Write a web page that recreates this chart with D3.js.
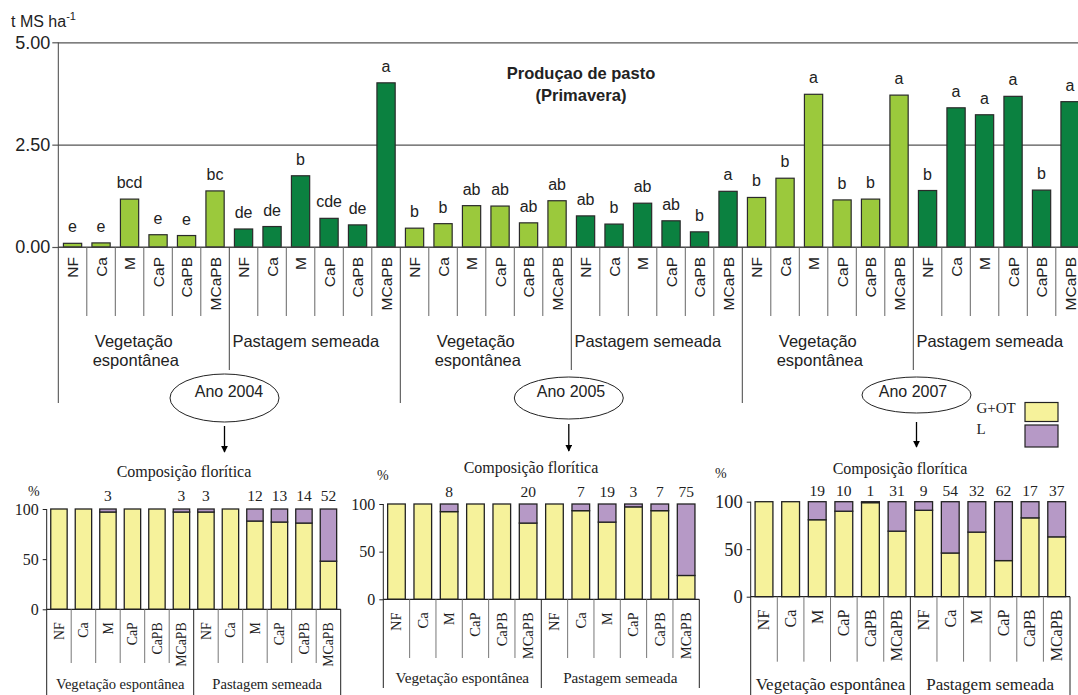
<!DOCTYPE html>
<html>
<head>
<meta charset="utf-8">
<script src="https://cdn.jsdelivr.net/npm/d3@7"></script>
<style>
  body { margin: 0; background: #fff; }
  svg { display: block; }
  .sans { font-family: Arial, "Liberation Sans", sans-serif; fill: #222; }
  .serif { font-family: "Times New Roman", "Liberation Serif", serif; fill: #222; }
</style>
</head>
<body>
<div id="chart"></div>
<script>
const years = ['2004', '2005', '2007'];
const systems = ['Vegetação espontânea', 'Pastagem semeada'];
const treatments = ['NF', 'Ca', 'M', 'CaP', 'CaPB', 'MCaPB'];

// t MS ha-1, first 6 = vegetação espontânea, last 6 = pastagem semeada
const pasture2004 = [0.09, 0.10, 1.17, 0.30, 0.28, 1.37, 0.44, 0.50, 1.74, 0.70, 0.54, 4.01];
const pasture2005 = [0.46, 0.57, 1.01, 1.00, 0.59, 1.13, 0.76, 0.56, 1.07, 0.64, 0.37, 1.36];
const pasture2007 = [1.21, 1.68, 3.73, 1.15, 1.17, 3.71, 1.38, 3.40, 3.23, 3.68, 1.39, 3.55];

const letters2004 = ['e', 'e', 'bcd', 'e', 'e', 'bc', 'de', 'de', 'b', 'cde', 'de', 'a'];
const letters2005 = ['b', 'b', 'ab', 'ab', 'ab', 'ab', 'ab', 'b', 'ab', 'ab', 'b', 'a'];
const letters2007 = ['b', 'b', 'a', 'b', 'b', 'a', 'b', 'a', 'a', 'a', 'b', 'a'];

// % leguminosas (L); G+OT is the rest up to 100
const legumes2004 = [0, 0, 3, 0, 0, 3, 3, 0, 12, 13, 14, 52];
const legumes2005 = [0, 0, 8, 0, 0, 20, 0, 7, 19, 3, 7, 75];
const legumes2007 = [0, 0, 19, 10, 1, 31, 9, 54, 32, 62, 17, 37];

const pastureTicks = [0, 2.5, 5];
const percentTicks = [0, 50, 100];
const legendLabels = ['G+OT', 'L'];

const LIGHT = '#9bc93c', DARK = '#0b8140';
const YELLOW = '#f6f29b', PURPLE = '#b699c6';
const INK = '#222';

const svg = d3.select('#chart').append('svg')
  .attr('width', 1078)
  .attr('height', 695);

svg.append('defs').append('marker')
  .attr('id', 'arrow')
  .attr('viewBox', '0 0 10 10')
  .attr('refX', 9).attr('refY', 5)
  .attr('markerWidth', 7).attr('markerHeight', 7)
  .attr('markerUnits', 'userSpaceOnUse')
  .attr('orient', 'auto')
  .append('path')
    .attr('d', 'M0,0L10,5L0,10Z')
    .attr('fill', '#000');

// ---------- top chart: produção de pasto ----------
const pasture = [pasture2004, pasture2005, pasture2007];
const letters = [letters2004, letters2005, letters2007];

const rows = [];
years.forEach(function(yr, yi) {
  pasture[yi].forEach(function(v, i) {
    rows.push({ year: yr, system: Math.floor(i / 6), treatment: treatments[i % 6], value: v, letter: letters[yi][i] });
  });
});

const x = d3.scaleBand()
  .domain(d3.range(rows.length))
  .range([58.3, 1084.3]);

const y = d3.scaleLinear()
  .domain([0, 5])
  .range([247, 42.3]);

const topG = svg.append('g');

// gridlines + ticks
topG.append('g')
  .attr('transform', 'translate(58.3,0)')
  .call(d3.axisRight(y).tickValues(pastureTicks).tickSize(1078 - 58.3).tickFormat(''))
  .call(function(g) {
    g.select('.domain').remove();
    g.selectAll('.tick line').attr('stroke', '#555').attr('stroke-width', 1.2);
  });

topG.append('g')
  .attr('transform', 'translate(58.3,0)')
  .call(d3.axisLeft(y).tickValues(pastureTicks).tickSize(6).tickPadding(2).tickFormat(d3.format('.2f')))
  .call(function(g) {
    g.select('.domain').remove();
    g.selectAll('.tick line').attr('stroke', '#555').attr('stroke-width', 1.2);
    g.selectAll('.tick text')
      .attr('class', 'sans')
      .attr('font-size', 18)
      .attr('fill', INK);
  });

// left axis line, running down through the label area
topG.append('line')
  .attr('x1', 58.3).attr('x2', 58.3)
  .attr('y1', y(5)).attr('y2', 403)
  .attr('stroke', '#444').attr('stroke-width', 1);

topG.append('text')
  .attr('class', 'sans')
  .attr('x', 11).attr('y', 27)
  .attr('font-size', 16)
  .text('t MS ha')
  .append('tspan')
    .attr('dy', -7)
    .attr('font-size', 11)
    .text('-1');

topG.append('text')
  .attr('class', 'sans')
  .attr('x', 581).attr('y', 79)
  .attr('text-anchor', 'middle')
  .attr('font-size', 16.5)
  .attr('font-weight', 'bold')
  .text('Produçao de pasto');
topG.append('text')
  .attr('class', 'sans')
  .attr('x', 581).attr('y', 101)
  .attr('text-anchor', 'middle')
  .attr('font-size', 16.5)
  .attr('font-weight', 'bold')
  .text('(Primavera)');

const barW = x.bandwidth() * 0.64;

topG.selectAll('.bar')
  .data(rows)
  .enter().append('rect')
    .attr('class', 'bar')
    .attr('x', function(d, i) { return x(i) + (x.bandwidth() - barW) / 2 })
    .attr('y', function(d) { return y(d.value) })
    .attr('width', barW)
    .attr('height', function(d) { return y(0) - y(d.value) })
    .attr('fill', function(d) { return d.system === 0 ? LIGHT : DARK })
    .attr('stroke', '#2a2a2a')
    .attr('stroke-width', 1.2);

topG.selectAll('.letter')
  .data(rows)
  .enter().append('text')
    .attr('class', 'sans letter')
    .attr('x', function(d, i) { return x(i) + x.bandwidth() / 2 })
    .attr('y', function(d) { return y(d.value) - 11 })
    .attr('text-anchor', 'middle')
    .attr('font-size', 16)
    .text(function(d) { return d.letter });

topG.append('line')
  .attr('x1', 58.3).attr('x2', 1078)
  .attr('y1', y(0)).attr('y2', y(0))
  .attr('stroke', '#444').attr('stroke-width', 1.2);

// category labels
topG.selectAll('.cat')
  .data(rows)
  .enter().append('text')
    .attr('class', 'sans cat')
    .attr('font-size', 15.5)
    .attr('text-anchor', 'end')
    .attr('transform', function(d, i) {
      return 'translate(' + (x(i) + x.bandwidth() / 2 + 5.5) + ',' + 257 + ') rotate(-90)';
    })
    .text(function(d) { return d.treatment });

// dividers: short between treatments, longer between systems, longest between years
topG.selectAll('.div')
  .data(d3.range(1, rows.length))
  .enter().append('line')
    .attr('x1', function(i) { return x(i) })
    .attr('x2', function(i) { return x(i) })
    .attr('y1', y(0))
    .attr('y2', function(i) { return i % 12 === 0 ? 403 : (i % 6 === 0 ? 370 : 316) })
    .attr('stroke', function(i) { return i % 6 === 0 ? '#444' : '#666' })
    .attr('stroke-width', 1);

// system labels under each group
years.forEach(function(yr, yi) {
  const g0 = x(yi * 12), g1 = x(yi * 12 + 6), g2 = yi === 2 ? 1084.3 : x(yi * 12 + 12);
  const veg = topG.append('text')
    .attr('class', 'sans')
    .attr('font-size', 16.5)
    .attr('text-anchor', 'middle');
  veg.append('tspan').attr('x', (g0 + g1) / 2 - 10).attr('y', 347).text('Vegetação');
  veg.append('tspan').attr('x', (g0 + g1) / 2 - 8).attr('y', 366).text('espontânea');
  topG.append('text')
    .attr('class', 'sans')
    .attr('font-size', 16.5)
    .attr('text-anchor', 'middle')
    .attr('x', (g1 + g2) / 2 - 9)
    .attr('y', 347)
    .text(systems[1]);
});

// year ellipses + arrows
const yearMarks = [
  { cx: 224.5, cy: 398, ry: 24, tx: 229, ay1: 426, ay2: 452 },
  { cx: 568.8, cy: 398, ry: 21, tx: 571, ay1: 424, ay2: 451 },
  { cx: 916.5, cy: 395, ry: 18, tx: 913, ay1: 422, ay2: 447 }
];
years.forEach(function(yr, i) {
  const m = yearMarks[i];
  svg.append('ellipse')
    .attr('cx', m.cx).attr('cy', m.cy)
    .attr('rx', 54.5).attr('ry', m.ry)
    .attr('fill', '#fff')
    .attr('stroke', INK).attr('stroke-width', 1);
  svg.append('text')
    .attr('class', 'sans')
    .attr('x', m.tx).attr('y', 397)
    .attr('text-anchor', 'middle')
    .attr('font-size', 16)
    .text('Ano ' + yr);
  svg.append('line')
    .attr('x1', m.cx).attr('x2', m.cx)
    .attr('y1', m.ay1).attr('y2', m.ay2)
    .attr('stroke', '#000').attr('stroke-width', 1.3)
    .attr('marker-end', 'url(#arrow)');
});

// legend
const legend = svg.append('g');
[YELLOW, PURPLE].forEach(function(c, i) {
  legend.append('rect')
    .attr('x', 1025).attr('y', i === 0 ? 402.5 : 425)
    .attr('width', 33).attr('height', i === 0 ? 19 : 22)
    .attr('fill', c)
    .attr('stroke', INK).attr('stroke-width', 1.2);
  legend.append('text')
    .attr('class', 'serif')
    .attr('x', 976.5).attr('y', i === 0 ? 413 : 434)
    .attr('font-size', 15)
    .text(legendLabels[i]);
});

// ---------- bottom charts: composição florítica ----------
const legumes = [legumes2004, legumes2005, legumes2007];
const panels = [
  { x0: 46.7, x1: 340.7, y0: 609.3, y100: 509, cellBottom: 663, groupBottom: 695, groupY: 689, valueY: 500.5, titleX: 184, titleY: 476.5, pctX: 28, pctY: 496, tickFs: 16, catFs: 13.8, groupFs: 14.6 },
  { x0: 383.3, x1: 699.3, y0: 599.3, y100: 504, cellBottom: 658, groupBottom: 688, groupY: 683, valueY: 496.5, titleX: 531, titleY: 472.5, pctX: 377, pctY: 480, tickFs: 16, catFs: 14.6, groupFs: 15.2 },
  { x0: 750.7, x1: 1070, y0: 596.7, y100: 501.7, cellBottom: 661.7, groupBottom: 695, groupY: 690, valueY: 495.5, titleX: 900, titleY: 473.5, pctX: 715, pctY: 478, tickFs: 18.5, catFs: 16, groupFs: 17 }
];

panels.forEach(function(p, pi) {
  const data = legumes[pi].map(function(l, i) {
    return { treatment: treatments[i % 6], system: Math.floor(i / 6), L: l, G: 100 - l };
  });

  const bx = d3.scaleBand().domain(d3.range(data.length)).range([p.x0, p.x1]);
  const by = d3.scaleLinear().domain([0, 100]).range([p.y0, p.y100]);
  const w = bx.bandwidth() * 0.67;
  const g = svg.append('g');

  g.append('g')
    .attr('transform', 'translate(' + p.x0 + ',0)')
    .call(d3.axisLeft(by).tickValues(percentTicks).tickSize(4).tickPadding(4))
    .call(function(a) {
      a.select('.domain').remove();
      a.selectAll('.tick line').attr('stroke', INK);
      a.selectAll('.tick text')
        .attr('class', 'serif')
        .attr('font-size', p.tickFs)
        .attr('fill', INK);
    });

  g.append('text')
    .attr('class', 'serif')
    .attr('x', p.titleX).attr('y', p.titleY)
    .attr('text-anchor', 'middle')
    .attr('font-size', 16)
    .text('Composição florítica');
  g.append('text')
    .attr('class', 'serif')
    .attr('x', p.pctX).attr('y', p.pctY)
    .attr('font-size', 14)
    .text('%');

  const bars = g.selectAll('.cell')
    .data(data)
    .enter().append('g');

  bars.append('rect')
    .attr('x', function(d, i) { return bx(i) + (bx.bandwidth() - w) / 2 })
    .attr('y', function(d) { return by(d.G) })
    .attr('width', w)
    .attr('height', function(d) { return by(0) - by(d.G) })
    .attr('fill', YELLOW)
    .attr('stroke', INK).attr('stroke-width', 1.3);

  bars.filter(function(d) { return d.L > 0 }).append('rect')
    .attr('x', function(d) { return bx(data.indexOf(d)) + (bx.bandwidth() - w) / 2 })
    .attr('y', by(100))
    .attr('width', w)
    .attr('height', function(d) { return by(d.G) - by(100) })
    .attr('fill', PURPLE)
    .attr('stroke', INK).attr('stroke-width', 1.3);

  bars.filter(function(d) { return d.L > 0 }).append('text')
    .attr('class', 'serif')
    .attr('x', function(d) { return bx(data.indexOf(d)) + bx.bandwidth() / 2 })
    .attr('y', p.valueY)
    .attr('text-anchor', 'middle')
    .attr('font-size', 15.5)
    .text(function(d) { return d.L });

  g.append('line')
    .attr('x1', p.x0).attr('x2', p.x1)
    .attr('y1', by(0)).attr('y2', by(0))
    .attr('stroke', INK).attr('stroke-width', 1.3);

  g.selectAll('.cat')
    .data(data)
    .enter().append('text')
      .attr('class', 'serif')
      .attr('font-size', p.catFs)
      .attr('text-anchor', 'end')
      .attr('transform', function(d, i) {
        return 'translate(' + (bx(i) + bx.bandwidth() / 2 + p.catFs * 0.33) + ',' + (p.y0 + 13) + ') rotate(-90)';
      })
      .text(function(d) { return d.treatment });

  // y axis runs down to the bottom frame; dividers between cells and groups
  g.selectAll('.div')
    .data(d3.range(0, data.length + 1))
    .enter().append('line')
      .attr('x1', function(i) { return i === data.length ? p.x1 : bx(i) })
      .attr('x2', function(i) { return i === data.length ? p.x1 : bx(i) })
      .attr('y1', function(i) { return i === 0 ? by(100) : by(0) })
      .attr('y2', function(i) { return i % 6 === 0 ? p.groupBottom : p.cellBottom })
      .attr('stroke', function(i) { return i % 6 === 0 ? INK : '#777' })
      .attr('stroke-width', 1);

  systems.forEach(function(s, si) {
    g.append('text')
      .attr('class', 'serif')
      .attr('x', (bx(si * 6) + (si === 0 ? bx(6) : p.x1)) / 2)
      .attr('y', p.groupY)
      .attr('text-anchor', 'middle')
      .attr('font-size', p.groupFs)
      .text(s);
  });
});
</script>
</body>
</html>
